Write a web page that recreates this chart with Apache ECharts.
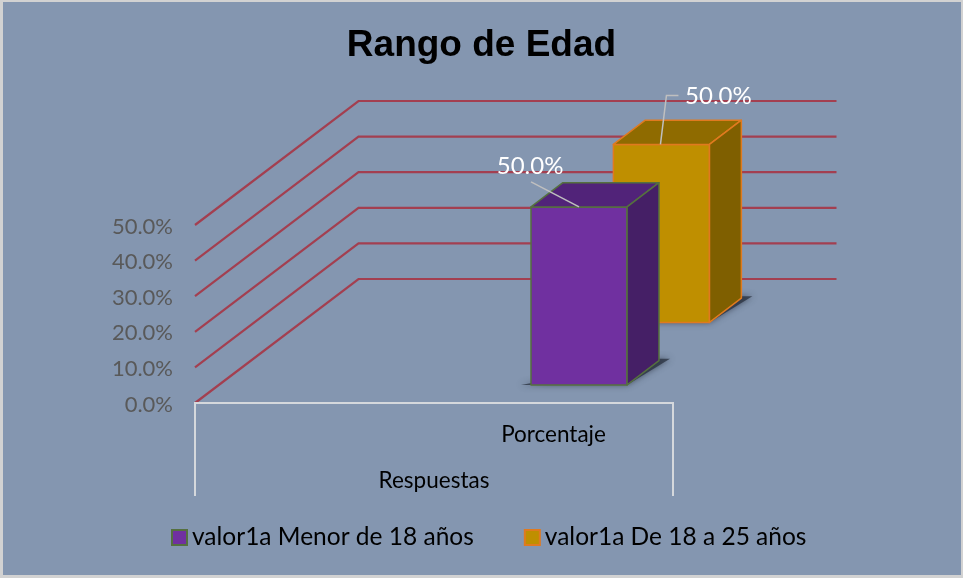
<!DOCTYPE html>
<html>
<head>
<meta charset="utf-8">
<style>html,body{margin:0;padding:0;background:#fff}#c{width:963px;height:578px}</style>
<script src="https://cdn.jsdelivr.net/npm/echarts@6/dist/echarts.min.js"></script>
</head>
<body>
<div id="c"></div>
<script>
const chartTitle = 'Rango de Edad';
const seriesNames = ['valor1a Menor de 18 años', 'valor1a De 18 a 25 años'];
const seriesValues = [50, 50];
const seriesDepth = [0.146, 0.65];
const categoryLabel = 'Porcentaje';
const depthLabel = 'Respuestas';
const valueTicks = [0, 10, 20, 30, 40, 50];

const DX = 163.5, DY = -124;
const BAR_X0 = 0.653, BAR_X1 = 0.854, BAR_D = 0.195;
const font = 'Lato';

const project = (api, x, d, v) => {
  const p = api.coord([x, v]);
  return [p[0] + d * DX, p[1] + d * DY];
};
const poly = (points, style, extra) => Object.assign({
  type: 'polygon', shape: { points: points }, style: style
}, extra || {});

function renderWalls(params, api) {
  const v = api.value(0);
  const a = project(api, 0, 0, v), b = project(api, 0, 1, v), c = project(api, 1, 1, v);
  return {
    type: 'polyline',
    shape: { points: [a, b, c] },
    style: { fill: null, stroke: '#A8303F', lineWidth: 2.2, opacity: 0.85 }
  };
}

function renderFloor(params, api) {
  const a = project(api, 0, 0, 0), b = project(api, 1, 0, 0);
  const drop = 93;
  const line = { fill: null, stroke: '#D5D8DC', lineWidth: 2 };
  return {
    type: 'group',
    children: [
      { type: 'polyline', shape: { points: [[a[0], a[1] + drop], a, b, [b[0], b[1] + drop]] }, style: line },
      { type: 'text', style: { x: a[0] + 358.5, y: a[1] + 32, text: categoryLabel, fill: '#000', font: '22.5px ' + font, align: 'center', verticalAlign: 'middle' } },
      { type: 'text', style: { x: (a[0] + b[0]) / 2, y: a[1] + 78, text: depthLabel, fill: '#000', font: '22.5px ' + font, align: 'center', verticalAlign: 'middle' } }
    ]
  };
}

function makeBar(colors, labelPlace) {
  return function (params, api) {
    const d = api.value(0), v = api.value(1);
    const d2 = d + BAR_D;
    const fbl = project(api, BAR_X0, d, 0), fbr = project(api, BAR_X1, d, 0);
    const ftl = project(api, BAR_X0, d, v), ftr = project(api, BAR_X1, d, v);
    const bbr = project(api, BAR_X1, d2, 0);
    const btl = project(api, BAR_X0, d2, v), btr = project(api, BAR_X1, d2, v);
    const edge = { stroke: colors.edge, lineWidth: 1.5, lineJoin: 'round' };
    const topC = [(ftl[0] + ftr[0]) / 2, ftl[1]];
    const leader = labelPlace.leader.map(o => [topC[0] + o[0], topC[1] + o[1]]);
    return {
      type: 'group',
      children: [
        poly([[fbl[0] - 10, fbl[1] + 0], [fbr[0], fbr[1] + 0], [bbr[0] + 11, bbr[1] - 2], [bbr[0], bbr[1] - 2]],
          { fill: 'rgba(40,48,62,0.75)', shadowBlur: 6, shadowColor: 'rgba(40,48,62,0.9)' }),
        poly([fbl, fbr, ftr, ftl], Object.assign({ fill: colors.front }, edge)),
        poly([ftl, ftr, btr, btl], Object.assign({ fill: colors.top }, edge)),
        poly([fbr, bbr, btr, ftr], Object.assign({ fill: colors.side }, edge)),
        { type: 'polyline', shape: { points: leader }, style: { fill: null, stroke: '#BFBFBF', lineWidth: 1.5 } },
        { type: 'text', style: {
            x: topC[0] + labelPlace.text[0], y: topC[1] + labelPlace.text[1],
            text: v.toFixed(1) + '%', fill: '#fff', font: '24px ' + font,
            align: 'center', verticalAlign: 'middle' } }
      ]
    };
  };
}

const palette = [
  { front: '#7030A0', top: '#512379', side: '#451F66', edge: '#55703F' },
  { front: '#BF8F00', top: '#8F6B00', side: '#7F5F00', edge: '#E07A1F' }
];
const labelPlaces = [
  { leader: [[0, 0], [-48, -25]], text: [-49, -41] },
  { leader: [[-1, 0], [5, -49], [17, -49]], text: [57, -48] }
];

const chart = echarts.init(document.getElementById('c'), null, { renderer: 'canvas' });
chart.setOption({
  animation: false,
  backgroundColor: '#D2D2D2',
  graphic: [{
    type: 'rect', z: -100, silent: true,
    shape: { x: 3, y: 2, width: 958, height: 573 },
    style: { fill: '#8496B0' }
  }],
  title: {
    text: chartTitle, top: 22,
    left: 476.5, textAlign: 'center',
    textStyle: { fontFamily: 'Liberation Sans', fontWeight: 'bold', fontSize: 37, color: '#000' }
  },
  legend: {
    left: 171, top: 525, padding: 0, itemWidth: 15, itemHeight: 15, itemGap: 50, icon: 'rect',
    textStyle: { fontFamily: font, fontSize: 24.5, color: '#000' },
    data: seriesNames.map((n, i) => ({
      name: n, icon: 'rect',
      itemStyle: { color: palette[i].front, borderColor: palette[i].edge, borderWidth: 2 }
    }))
  },
  grid: { left: 195, right: 290, top: 225, bottom: 175 },
  xAxis: { type: 'value', min: 0, max: 1, show: false },
  yAxis: {
    type: 'value', min: 0, max: 50, interval: 10,
    axisLine: { show: false }, axisTick: { show: false }, splitLine: { show: false },
    axisLabel: {
      margin: 22, formatter: v => '{a|' + v.toFixed(1) + '%}',
      rich: { a: { color: '#595959', fontFamily: font, fontSize: 22, padding: [3, 0, 0, 0] } }
    }
  },
  series: [
    { type: 'custom', name: 'walls', silent: true, z: 1, renderItem: renderWalls, data: valueTicks.map(v => [v]), encode: { y: 0 } },
    { type: 'custom', name: 'floor', silent: true, z: 2, renderItem: renderFloor, data: [[0]], encode: { y: 0 } },
    { type: 'custom', name: seriesNames[1], z: 3, renderItem: makeBar(palette[1], labelPlaces[1]), data: [[seriesDepth[1], seriesValues[1]]], encode: { y: 1 } },
    { type: 'custom', name: seriesNames[0], z: 4, renderItem: makeBar(palette[0], labelPlaces[0]), data: [[seriesDepth[0], seriesValues[0]]], encode: { y: 1 } }
  ]
});
</script>
</body>
</html>
